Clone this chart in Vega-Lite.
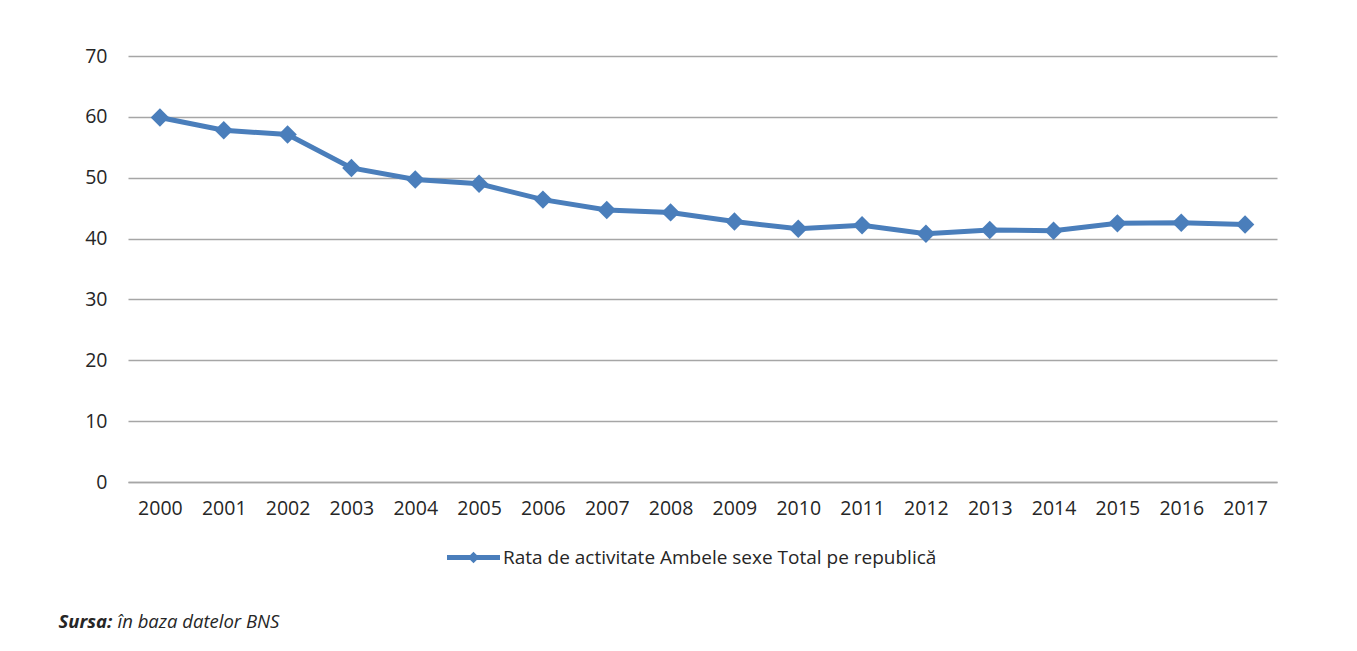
{
  "$schema": "https://vega.github.io/schema/vega-lite/v6.json",
  "width": 1149,
  "height": 426,
  "autosize": {"type": "none"},
  "padding": {"left": 128, "top": 56, "right": 80, "bottom": 169},
  "background": "white",
  "config": {
    "font": "Open Sans",
    "view": {"stroke": null},
    "axis": {"labelColor": "#262626", "labelFont": "Open Sans", "labelFontSize": 19.5, "titleColor": "#262626"}
  },
  "data": {
    "values": [
      {"year": "2000", "value": 59.9, "series": "Rata de activitate Ambele sexe Total pe republică"},
      {"year": "2001", "value": 57.8, "series": "Rata de activitate Ambele sexe Total pe republică"},
      {"year": "2002", "value": 57.1, "series": "Rata de activitate Ambele sexe Total pe republică"},
      {"year": "2003", "value": 51.6, "series": "Rata de activitate Ambele sexe Total pe republică"},
      {"year": "2004", "value": 49.7, "series": "Rata de activitate Ambele sexe Total pe republică"},
      {"year": "2005", "value": 49.0, "series": "Rata de activitate Ambele sexe Total pe republică"},
      {"year": "2006", "value": 46.4, "series": "Rata de activitate Ambele sexe Total pe republică"},
      {"year": "2007", "value": 44.7, "series": "Rata de activitate Ambele sexe Total pe republică"},
      {"year": "2008", "value": 44.3, "series": "Rata de activitate Ambele sexe Total pe republică"},
      {"year": "2009", "value": 42.8, "series": "Rata de activitate Ambele sexe Total pe republică"},
      {"year": "2010", "value": 41.6, "series": "Rata de activitate Ambele sexe Total pe republică"},
      {"year": "2011", "value": 42.2, "series": "Rata de activitate Ambele sexe Total pe republică"},
      {"year": "2012", "value": 40.8, "series": "Rata de activitate Ambele sexe Total pe republică"},
      {"year": "2013", "value": 41.4, "series": "Rata de activitate Ambele sexe Total pe republică"},
      {"year": "2014", "value": 41.3, "series": "Rata de activitate Ambele sexe Total pe republică"},
      {"year": "2015", "value": 42.5, "series": "Rata de activitate Ambele sexe Total pe republică"},
      {"year": "2016", "value": 42.6, "series": "Rata de activitate Ambele sexe Total pe republică"},
      {"year": "2017", "value": 42.3, "series": "Rata de activitate Ambele sexe Total pe republică"}
    ]
  },
  "encoding": {
    "x": {
      "field": "year", "type": "ordinal",
      "scale": {"paddingInner": 0, "paddingOuter": 0.5},
      "axis": {
        "labelAngle": 0, "ticks": false, "domainColor": "#A6A6A6", "domainWidth": 1.5,
        "labelPadding": 17, "grid": false,
        "title": "în baza datelor BNS", "titleFont": "Open Sans", "titleFontSize": 18.5, "titleFontStyle": "italic", "titleFontWeight": "normal",
        "titleAnchor": "start", "titleAlign": "left", "titleBaseline": "alphabetic", "titleX": -11, "titleY": 145
      }
    },
    "y": {
      "field": "value", "type": "quantitative",
      "scale": {"domain": [0, 70]},
      "axis": {
        "values": [0, 10, 20, 30, 40, 50, 60, 70], "domain": false, "ticks": false,
        "labelPadding": 21, "gridColor": "#A6A6A6", "gridWidth": 1.5,
        "title": "Sursa:", "titleAngle": 0, "titleFont": "Open Sans", "titleFontSize": 18.5, "titleFontStyle": "italic", "titleFontWeight": "bold",
        "titleAlign": "left", "titleBaseline": "alphabetic", "titleX": -70, "titleY": 571
      }
    },
    "color": {
      "field": "series", "type": "nominal",
      "scale": {"range": ["#4A7EBB"]},
      "legend": {
        "title": null, "orient": "none", "legendX": 319, "legendY": 475,
        "labelFont": "Open Sans", "labelFontSize": 19, "labelColor": "#262626", "labelOffset": 3, "labelLimit": 0,
        "symbolType": "M-1,-0.09H1V0.09H-1Z M-0.22,0L0,-0.22L0.22,0L0,0.22Z",
        "symbolSize": 2809,
        "encode": {"symbols": {"update": {"fill": {"value": "#4A7EBB"}, "stroke": {"value": "#4A7EBB"}, "strokeWidth": {"value": 0}, "opacity": {"value": 1}}}}
      }
    }
  },
  "layer": [
    {"mark": {"type": "line", "strokeWidth": 5}},
    {"mark": {"type": "point", "shape": "diamond", "filled": true, "size": 340, "opacity": 1}}
  ]
}
